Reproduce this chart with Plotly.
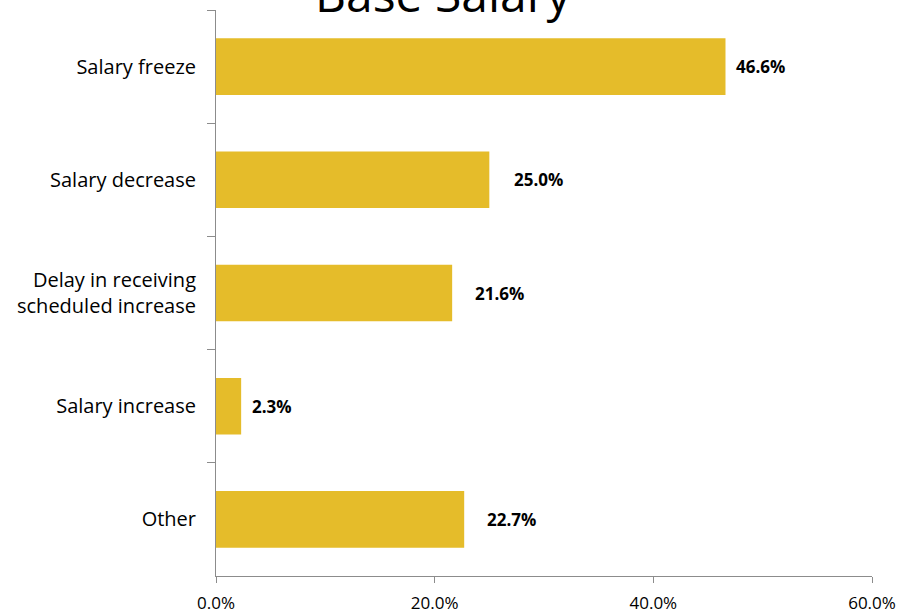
import plotly.graph_objects as go

categories = ["Salary freeze", "Salary decrease", "Delay in receiving<br>scheduled increase", "Salary increase", "Other"]
values = [46.6, 25.0, 21.6, 2.3, 22.7]
labels = ["46.6%", "25.0%", "21.6%", "2.3%", "22.7%"]
tick_vals = [0, 20, 40, 60]
tick_text = ["0.0%", "20.0%", "40.0%", "60.0%"]

# styling: per-label pixel gaps after bar end
label_gap = [9, 23, 21, 9, 21]

FONT = "Open Sans, sans-serif"
BAR = "#E5BC2A"
AXIS = "#8C8C8C"

fig = go.Figure(go.Bar(
    x=values, y=categories, orientation="h",
    marker=dict(color=BAR, line=dict(width=0)),
    width=0.5, hoverinfo="skip",
))

for v, c, t, g in zip(values, categories, labels, label_gap):
    fig.add_annotation(x=v, y=c, xref="x", yref="y", text="<b>" + t + "</b>",
                       showarrow=False, xanchor="left", xshift=g,
                       font=dict(family=FONT, size=17, color="#000000"))

fig.add_annotation(text="Base Salary", xref="paper", yref="paper", x=0.346, y=1,
                   xanchor="center", yanchor="bottom", yshift=-18, showarrow=False,
                   font=dict(family=FONT, size=48, color="#000000"))

fig.update_layout(
    width=901, height=613,
    margin=dict(l=216, r=29, t=10, b=37, autoexpand=False),
    paper_bgcolor="white", plot_bgcolor="white",
    showlegend=False,
    font=dict(family=FONT, color="#000000"),
    xaxis=dict(range=[0, 60], tickvals=tick_vals, ticktext=tick_text, automargin=False,
               showgrid=False, zeroline=False, showline=True, linecolor=AXIS, linewidth=1,
               ticks="outside", ticklen=6, tickcolor=AXIS, ticklabelstandoff=6,
               tickfont=dict(family=FONT, size=17, color="#000000")),
    yaxis=dict(autorange="reversed", showgrid=False, showline=True, linecolor=AXIS, linewidth=1,
               automargin=False,
               ticks="outside", tickson="boundaries", ticklen=8, tickcolor=AXIS,
               tickfont=dict(family=FONT, size=20, color="#000000"), ticklabelstandoff=15),
)

fig.write_html("out.html", config={"displayModeBar": False},
               post_script="document.body.style.margin='0';document.body.style.overflow='hidden';")
